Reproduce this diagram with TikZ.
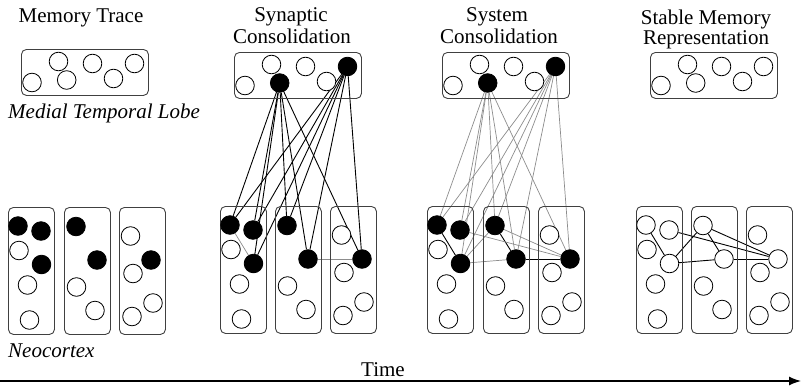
\documentclass[tikz,border=0pt]{standalone}
\usepackage{fontspec}
\setmainfont{Liberation Serif}
\usetikzlibrary{backgrounds,arrows.meta}

\tikzset{
  neuron/.style={circle, draw=black, line width=0.8pt, minimum size=18.6pt, inner sep=0pt, fill=white},
  region/.style={draw=black!75, line width=0.9pt, rounded corners=5pt, inner sep=0pt, anchor=north west},
  mtlbox/.style={region, minimum width=127pt, minimum height=46pt},
  ctxbox/.style={region, minimum width=46pt, minimum height=127pt},
  strong/.style={draw=black, line width=0.9pt},
  weak/.style={draw=black!45, line width=0.7pt},
  lbl/.style={font=\fontsize{21}{24}\selectfont, anchor=base, inner sep=0pt},
  ilbl/.style={font=\fontsize{21}{24}\selectfont\itshape, anchor=base west, inner sep=0pt},
}

\newcommand\mtlgroup[4]{%
  \begin{scope}[shift={(#2,#3)}]
    \node[mtlbox] (#1box) at (0,0) {};
    \node[neuron] (#1n1) at (11,33.5) {};
    \node[neuron] (#1n2) at (37.5,12.5) {};
    \node[neuron,fill=#4] (#1n3) at (45.7,31) {};
    \node[neuron] (#1n4) at (71.5,14.5) {};
    \node[neuron] (#1n5) at (92.5,29.5) {};
    \node[neuron,fill=#4] (#1n6) at (113.5,14.5) {};
  \end{scope}}

\newcommand\ctxgroup[6]{%
  \begin{scope}[shift={(#2,#5)}]
    \node[ctxbox] (#1boxa) at (0,0) {};
    \node[neuron,fill=#6] (#1a1) at (10,19) {};
    \node[neuron,fill=#6] (#1a2) at (33,24) {};
    \node[neuron] (#1a3) at (11,43.5) {};
    \node[neuron,fill=#6] (#1a4) at (33.5,57.5) {};
    \node[neuron] (#1a5) at (19.5,78) {};
    \node[neuron] (#1a6) at (21.5,113) {};
  \end{scope}
  \begin{scope}[shift={(#3,#5)}]
    \node[ctxbox] (#1boxb) at (0,0) {};
    \node[neuron,fill=#6] (#1b1) at (12,19.5) {};
    \node[neuron,fill=#6] (#1b2) at (33,53) {};
    \node[neuron] (#1b3) at (12.5,80) {};
    \node[neuron] (#1b4) at (31,103.5) {};
  \end{scope}
  \begin{scope}[shift={(#4,#5)}]
    \node[ctxbox] (#1boxc) at (0,0) {};
    \node[neuron] (#1c1) at (11.5,29) {};
    \node[neuron,fill=#6] (#1c2) at (32,53) {};
    \node[neuron] (#1c3) at (14,66.5) {};
    \node[neuron] (#1c4) at (34,96) {};
    \node[neuron] (#1c5) at (13,109.5) {};
  \end{scope}}

\begin{document}
\begin{tikzpicture}[x=1pt,y=-1pt]
  \useasboundingbox (0,0) rectangle (801,386);

  % titles
  \node[lbl] (t1) at (81,22) {Memory Trace};
  \node[lbl] (t2a) at (291,21) {Synaptic};
  \node[lbl] (t2b) at (292,43) {Consolidation};
  \node[lbl] (t3a) at (497,21) {System};
  \node[lbl] (t3b) at (499,43) {Consolidation};
  \node[lbl] (t4a) at (706,24) {Stable Memory};
  \node[lbl] (t4b) at (706,44) {Representation};

  % medial temporal lobe groups
  \mtlgroup{pm}{21}{49}{white}
  \mtlgroup{sm}{234}{52}{black}
  \mtlgroup{ym}{442}{52}{black}
  \mtlgroup{rm}{650}{52}{white}

  \node[ilbl] (mtl) at (8,118) {Medial Temporal Lobe};

  % neocortex groups
  \ctxgroup{p}{8}{64}{119}{207}{black}
  \ctxgroup{s}{220}{275}{330}{206}{black}
  \ctxgroup{y}{427}{483}{538}{206}{black}
  \ctxgroup{r}{636}{691}{746}{206}{white}

  \node[ilbl] (neo) at (8,357) {Neocortex};

  % connectors (behind the neurons)
  \begin{scope}[on background layer]
    \foreach \s in {smn3,smn6}{
      \foreach \t in {sa1,sa2,sa4,sb1,sb2,sc2}{
        \draw[strong] (\s) -- (\t);
      }
    }
    \draw[weak] (sa1) -- (sa4);
    \draw[weak] (sb2) -- (sc2);

    \foreach \s in {ymn3,ymn6}{
      \foreach \t in {ya1,ya2,ya4,yb1,yb2,yc2}{
        \draw[weak] (\s) -- (\t);
      }
    }
    \draw[strong] (ya1) -- (ya4);
    \draw[strong] (yb1) -- (yb2);
    \draw[strong] (yb2) -- (yc2);
    \draw[weak] (ya2) -- (yc2);
    \draw[weak] (ya4) -- (yb1);
    \draw[weak] (ya4) -- (yb2);
    \draw[weak] (yb1) -- (yc2);

    \draw[strong] (ra1) -- (ra4);
    \draw[strong] (ra2) -- (rc2);
    \draw[strong] (ra4) -- (rb1);
    \draw[strong] (ra4) -- (rb2);
    \draw[strong] (rb1) -- (rb2);
    \draw[strong] (rb1) -- (rc2);
    \draw[strong] (rb2) -- (rc2);
  \end{scope}

  % time axis
  \coordinate (tl) at (0,381);
  \coordinate (tr) at (801,381);
  \draw[line width=1.3pt, -{Latex[length=12pt,width=9pt]}] (tl) -- (tr);
  \node[lbl] (time) at (383,376) {Time};
\end{tikzpicture}
\end{document}
